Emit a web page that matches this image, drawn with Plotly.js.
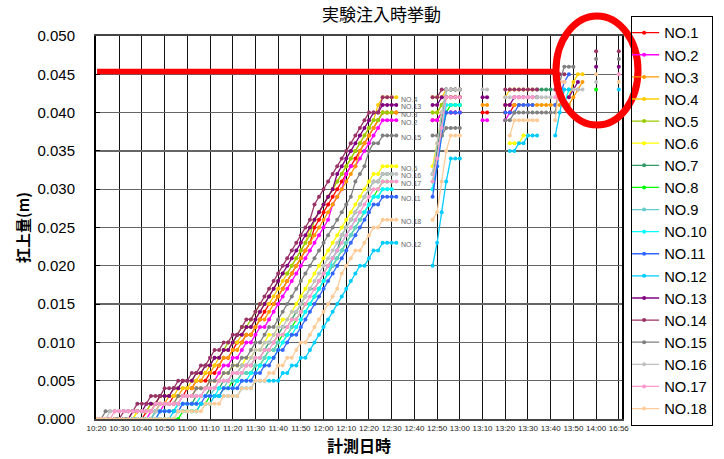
<!DOCTYPE html>
<html>
<head>
<meta charset="utf-8">
<script src="https://cdn.plot.ly/plotly-3.0.1.min.js"></script>
<style>html,body{margin:0;padding:0;background:#fff;}#chart{width:724px;height:459px;}</style>
</head>
<body>
<div id="chart"></div>
<script>
const _ = null;
// x categories: one step per measurement (2 min), label every 5 steps
const timeLabels = ['10:20','10:30','10:40','10:50','11:00','11:10','11:20','11:30','11:40','11:50','12:00','12:10','12:20','12:30','12:40','12:50','13:00','13:10','13:20','13:30','13:40','13:50','14:00','16:56'];
const seriesNames = ['NO.1','NO.2','NO.3','NO.4','NO.5','NO.6','NO.7','NO.8','NO.9','NO.10','NO.11','NO.12','NO.13','NO.14','NO.15','NO.16','NO.17','NO.18'];
const seriesColors = ['#FF0000','#FF00FF','#FF9900','#FFCC00','#99CC00','#FFFF00','#339966','#00FF00','#66CCCC','#00FFFF','#3366FF','#00CCFF','#800080','#993366','#808080','#C0C0C0','#FF99CC','#FFCC99'];

// lift (m) per measurement step
const no1 = [0,0,0,0,0, 0,0,0,0,0, 0,0.001,0.001,0.001,0.002, 0.002,0.002,0.003,0.003,0.003, 0.004,0.004,0.005,0.005,0.005, 0.006,0.006,0.007,0.008,0.008, 0.009,0.010,0.010,0.011,0.011, 0.012,0.013,0.014,0.015,0.015, 0.016,0.017,0.018,0.019,0.020, 0.021,0.022,0.023,0.025,0.026, 0.027,0.028,0.029,0.030,0.031, 0.032,0.033,0.034,0.035,0.036, 0.037,0.038,0.039, 0.040,0.040,0.040,0.040,
 _,_,_,_,_,_,_, 0.039,0.039,0.040,0.040,0.040,0.040,0.040, _,_,_,_, 0.040,0.040, _,_,_,
 0.040,0.040,0.041,_,_,_,_,_,_,_,_, _,_,_,_,_,_,_, _,_, _, _,_,_,_, _];
const no2 = [0,0,0,0,0, 0,0,0,0,0, 0,0,0.001,0.001,0.001, 0.002,0.002,0.002,0.002,0.003, 0.003,0.003,0.004,0.004,0.004, 0.005,0.005,0.006,0.007,0.007, 0.008,0.008,0.009,0.010,0.010, 0.011,0.012,0.012,0.013,0.014, 0.015,0.016,0.017,0.018,0.019, 0.020,0.021,0.022,0.023,0.024, 0.025,0.026,0.028,0.029,0.030, 0.032,0.033,0.033,0.034,0.035, 0.036,0.037,0.038, 0.039,0.039,0.039,0.039,
 _,_,_,_,_,_,_, 0.039,0.039,0.040,0.040,0.040,0.040,0.040, _,_,_,_, 0.039,0.039, _,_,_,
 0.039,0.040,_,_,_,_,_,_,_,_,_, _,_,_,_,_,_,_, _,_, _, _,_,_,_, _];
const no3 = [0,0,0,0,0, 0,0,0,0,0.001, 0.001,0.001,0.001,0.002,0.002, 0.002,0.003,0.003,0.003,0.004, 0.004,0.004,0.005,0.005,0.006, 0.006,0.007,0.007,0.008,0.008, 0.009,0.009,0.010,0.011,0.011, 0.012,0.013,0.013,0.014,0.015, 0.016,0.017,0.018,0.019,0.020, 0.021,0.022,0.023,0.024,0.025, 0.026,0.027,0.028,0.029,0.030, 0.031,0.032,0.033,0.035,0.036, 0.037,0.038,0.039, 0.040,0.040,0.040,0.040,
 _,_,_,_,_,_,_, 0.040,0.040,0.041,0.041,0.041,0.041,0.041, _,_,_,_, 0.041,0.041, _,_,_,
 0.041,0.041,0.041,0.041,0.041,0.041,0.041,0.041,0.041,0.041,0.041, 0.041,0.041,0.041,0.041,0.042,0.043,0.044, _,_, _, _,_,_,_, _];
const no4 = [0,0,0,0,0, 0,0,0,0,0.001, 0.001,0.001,0.002,0.002,0.003, 0.003,0.003,0.003,0.004,0.004, 0.004,0.005,0.005,0.006,0.006, 0.007,0.007,0.008,0.009,0.009, 0.010,0.010,0.011,0.012,0.012, 0.013,0.014,0.015,0.015,0.016, 0.017,0.018,0.019,0.020,0.021, 0.022,0.023,0.025,0.026,0.027, 0.028,0.029,0.030,0.031,0.032, 0.033,0.034,0.035,0.036,0.037, 0.038,0.039,0.041, 0.042,0.042,0.042,0.042,
 _,_,_,_,_,_,_, 0.042,0.042,0.042,0.043,0.043,0.043,0.043, _,_,_,_, _,_, _,_,_,
 0.042,0.043,0.043,0.043,0.043,0.043,0.043,_,_,_,_, _,_,_,0.042,0.044,0.045,0.045, _,_, _, _,_,_,_, _];
const no5 = [0,0,0,0,0, 0,0,0,0.001,0.001, 0.001,0.001,0.002,0.002,0.003, 0.003,0.003,0.004,0.004,0.005, 0.005,0.005,0.006,0.006,0.007, 0.007,0.008,0.008,0.009,0.010, 0.010,0.011,0.012,0.012,0.013, 0.014,0.015,0.015,0.016,0.017, 0.018,0.019,0.019,0.020,0.021, 0.022,0.023,0.024,0.026,0.027, 0.028,0.029,0.030,0.031,0.032, 0.033,0.034,0.035,0.036,0.037, 0.038,0.039,0.039, 0.040,0.040,0.040,_,
 _,_,_,_,_,_,_, 0.040,0.040,0.041,0.042,0.042,0.042,0.042, _,_,_,_, _,_, _,_,_,
 _,_,_,_,_,_,_,_,_,_,_, _,_,_,_,_,_,_, _,_, _, _,_,_,_, _];
const no6 = [0,0,0,0,0, 0,0,0,0,0.001, 0.001,0.001,0.001,0.001,0.002, 0.002,0.002,0.002,0.003,0.003, 0.003,0.003,0.004,0.004,0.004, 0.005,0.005,0.005,0.006,0.006, 0.007,0.007,0.007,0.008,0.008, 0.009,0.009,0.010,0.011,0.011, 0.012,0.013,0.013,0.014,0.015, 0.016,0.017,0.018,0.019,0.020, 0.021,0.022,0.023,0.024,0.025, 0.026,0.027,0.028,0.029,0.030, 0.031,0.032,0.032, 0.033,0.033,0.033,0.033,
 _,_,_,_,_,_,_, 0.033,0.036,0.040,0.042,0.042,0.042,0.042, _,_,_,_, _,_, _,_,_,
 _,0.036,0.036,0.036,0.037,0.037,_,_,_,_,_, _,_,_,_,_,_,_, _,_, _, _,_,_,_, _];
const no7 = [0,0,0,0,0, 0,0,0,0,0, 0,0,0,0.001,0.001, 0.001,0.001,0.001,0.002,0.002, 0.002,0.002,0.003,0.003,0.003, 0.004,0.004,0.004,0.005,0.005, 0.006,0.006,0.007,0.007,0.007, 0.008,0.008,0.009,0.010,0.010, 0.011,0.012,0.012,0.013,0.014, 0.015,0.016,0.017,0.017,0.018, 0.019,0.020,0.021,0.022,0.024, 0.025,0.026,0.027,0.028,0.029, 0.030,0.031,0.031, 0.032,0.032,0.032,_,
 _,_,_,_,_,_,_, 0.032,0.035,0.039,0.043,0.043,0.043,0.043, _,_,_,_, _,_, _,_,_,
 _,_,_,_,_,_,_,0.043,0.043,0.043,0.043, _,_,_,_,_,_,_, _,_, _, _,_,_,_, _];
const no8 = [0,0,0,0,0, 0,0,0,0,0, 0,0,0,0,0, 0,0,0,0,0.001, 0.001,0.001,0.001,0.002,0.002, 0.003,0.003,0.003,0.004,0.004, 0.005,0.005,0.006,0.006,0.006, 0.007,0.007,0.008,0.009,0.009, 0.010,0.011,0.011,0.012,0.013, 0.014,0.015,0.015,0.016,0.017, 0.018,0.019,0.020,0.021,0.022, 0.023,0.024,0.025,0.026,0.027, 0.028,0.029,0.030, 0.031,0.031,0.031,_,
 _,_,_,_,_,_,_, 0.031,0.034,0.037,0.040,0.041,0.041,0.041, _,_,_,_, _,_, _,_,_,
 _,_,_,_,_,_,_,_,_,_,_, _,_,_,_,_,_,_, _,_, 0.043, _,_,_,_, _];
const no9 = [0,0,0,0,0, 0,0,0,0,0, 0,0,0,0.001,0.001, 0.001,0.001,0.001,0.001,0.002, 0.002,0.002,0.002,0.003,0.003, 0.003,0.004,0.004,0.004,0.005, 0.005,0.005,0.006,0.006,0.006, 0.007,0.007,0.008,0.009,0.009, 0.010,0.010,0.011,0.012,0.012, 0.013,0.014,0.015,0.016,0.017, 0.018,0.019,0.020,0.021,0.022, 0.023,0.024,0.025,0.026,0.027, 0.028,0.029,0.029, 0.030,0.030,0.030,_,
 _,_,_,_,_,_,_, 0.030,0.034,0.038,0.043,0.043,0.043,0.043, _,_,_,_, _,_, _,_,_,
 _,_,_,_,_,_,_,_,_,_,_, _,_,_,_,_,_,_, _,_, _, _,_,_,_, _];
const no10 = [0,0,0,0,0, 0,0,0,0,0, 0,0,0,0,0.001, 0.001,0.001,0.001,0.002,0.002, 0.002,0.002,0.002,0.003,0.003, 0.003,0.003,0.004,0.004,0.004, 0.004,0.005,0.005,0.005,0.006, 0.006,0.007,0.007,0.008,0.008, 0.009,0.010,0.011,0.011,0.012, 0.013,0.014,0.015,0.016,0.017, 0.018,0.019,0.021,0.022,0.023, 0.024,0.025,0.026,0.027,0.027, 0.028,0.029,0.029, 0.030,0.030,0.030,_,
 _,_,_,_,_,_,_, 0.030,0.033,0.037,0.041,0.041,0.041,0.041, _,_,_,_, _,_, _,_,_,
 _,_,_,_,_,_,_,_,_,_,_, _,_,0.041,0.043,_,_,_, _,_, _, _,_,_,_, _];
const no11 = [0,0,0,0,0, 0,0,0,0,0, 0,0,0,0,0.001, 0.001,0.001,0.001,0.001,0.002, 0.002,0.002,0.002,0.002,0.003, 0.003,0.003,0.003,0.004,0.004, 0.004,0.004,0.005,0.005,0.005, 0.006,0.006,0.007,0.007,0.008, 0.009,0.009,0.010,0.011,0.011, 0.012,0.013,0.014,0.015,0.016, 0.017,0.018,0.019,0.020,0.021, 0.022,0.023,0.024,0.025,0.026, 0.027,0.028,0.028, 0.029,0.029,0.029,0.029,
 _,_,_,_,_,_,_, 0.029,0.033,0.037,0.040,0.040,0.040,0.040, _,_,_,_, _,_, _,_,_,
 0.040,0.040,0.040,0.041,0.041,0.041,0.041,_,_,_,_, 0.041,0.042,0.044,0.045,_,_,_, _,_, _, _,_,_,_, _];
const no12 = [0,0,0,0,0, 0,0,0,0,0, 0,0,0,0,0, 0,0,0.001,0.001,0.001, 0.001,0.001,0.001,0.002,0.002, 0.002,0.003,0.003,0.003,0.003, 0.003,0.003,0.004,0.004,0.004, 0.005,0.005,0.005,0.005,0.005, 0.005,0.006,0.006,0.007,0.007, 0.008,0.008,0.009,0.010,0.011, 0.012,0.013,0.014,0.015,0.016, 0.017,0.018,0.019,0.020,0.020, 0.021,0.022,0.022, 0.023,0.023,0.023,0.023,
 _,_,_,_,_,_,_, 0.020,0.023,0.027,0.031,0.034,0.034,0.034, _,_,_,_, _,_, _,_,_,
 _,0.035,0.035,0.036,0.036,0.037,0.037,0.037,_,_,_, 0.037,0.040,0.043,0.043,_,_,_, _,_, _, _,_,_,_, 0.043];
const no13 = [0,0,0,0,0, 0,0,0,0.001,0.001, 0.001,0.002,0.002,0.002,0.003, 0.003,0.003,0.004,0.004,0.005, 0.005,0.005,0.006,0.006,0.007, 0.007,0.008,0.008,0.009,0.009, 0.010,0.011,0.011,0.012,0.012, 0.013,0.014,0.015,0.016,0.017, 0.018,0.019,0.020,0.021,0.022, 0.023,0.024,0.025,0.026,0.027, 0.028,0.029,0.030,0.032,0.033, 0.034,0.035,0.036,0.037,0.038, 0.039,0.040,0.040, 0.041,0.041,0.041,0.041,
 _,_,_,_,_,_,_, 0.041,0.041,0.042,0.042,0.042,0.042,0.042, _,_,_,_, 0.042,0.042, _,_,_,
 0.041,0.041,0.042,0.042,0.042,0.042,0.042,0.042,_,_,_, _,_,_,0.042,0.043,0.044,_, _,_, 0.046, _,_,_,_, 0.046];
const no14 = [0,0,0,0,0, 0,0.001,0.001,0.001,0.002, 0.002,0.002,0.003,0.003,0.003, 0.004,0.004,0.004,0.005,0.005, 0.005,0.006,0.006,0.007,0.007, 0.008,0.009,0.009,0.010,0.010, 0.011,0.011,0.012,0.013,0.013, 0.014,0.015,0.016,0.017,0.018, 0.019,0.020,0.021,0.022,0.023, 0.024,0.025,0.026,0.028,0.029, 0.030,0.031,0.032,0.033,0.034, 0.035,0.036,0.037,0.038,0.039, 0.040,0.040,0.040, 0.042,0.042,0.042,_,
 _,_,_,_,_,_,_, 0.042,0.042,0.043,0.043,0.043,0.043,0.043, _,_,_,_, _,_, _,_,_,
 0.043,0.043,0.043,0.043,0.043,0.043,0.043,0.043,_,_,_, 0.043,0.045,0.045,_,_,_,_, _,_, 0.048, _,_,_,_, 0.048];
const no15 = [0,0,0.001,0.001,0.001, 0.001,0.001,0.001,0.001,0.001, 0.001,0.001,0.001,0.002,0.002, 0.002,0.002,0.002,0.003,0.003, 0.003,0.003,0.004,0.004,0.004, 0.005,0.005,0.005,0.006,0.006, 0.007,0.007,0.008,0.008,0.009, 0.010,0.010,0.011,0.012,0.012, 0.013,0.014,0.015,0.016,0.017, 0.018,0.019,0.020,0.021,0.022, 0.023,0.024,0.025,0.026,0.027, 0.028,0.029,0.031,0.032,0.033, 0.035,0.036,0.036, 0.037,0.037,0.037,0.037,
 _,_,_,_,_,_,_, 0.037,0.037,0.037,0.038,0.038,0.038,0.038, _,_,_,_, _,_, _,_,_,
 0.039,0.039,0.040,0.040,0.040,0.040,0.040,0.040,0.040,0.040,0.040, 0.040,0.044,0.046,0.046,0.046,_,_, _,_, 0.047, _,_,_,_, 0.047];
const no16 = [0,0,0,0.001,0.001, 0.001,0.001,0.001,0.001,0.001, 0.001,0.001,0.001,0.001,0.002, 0.002,0.002,0.002,0.002,0.003, 0.003,0.003,0.003,0.003,0.004, 0.004,0.004,0.005,0.005,0.005, 0.006,0.006,0.007,0.007,0.008, 0.009,0.009,0.010,0.010,0.011, 0.012,0.012,0.013,0.014,0.014, 0.015,0.016,0.017,0.018,0.019, 0.020,0.021,0.022,0.023,0.024, 0.025,0.026,0.027,0.028,0.029, 0.030,0.031,0.031, 0.032,0.032,0.032,0.032,
 _,_,_,_,_,_,_, 0.032,0.036,0.040,0.043,0.043,0.043,0.043, _,_,_,_, 0.043,0.043, _,_,_,
 0.042,0.042,0.042,0.042,0.042,0.042,0.042,0.042,0.042,0.042,0.042, _,_,_,_,0.043,0.043,0.043, _,_, 0.044, _,_,_,_, _];
const no17 = [0,0,0,0,0.001, 0.001,0.001,0.001,0.001,0.001, 0.001,0.001,0.001,0.002,0.002, 0.002,0.002,0.002,0.002,0.003, 0.003,0.003,0.003,0.003,0.004, 0.004,0.004,0.005,0.005,0.005, 0.006,0.006,0.006,0.007,0.007, 0.008,0.008,0.009,0.009,0.010, 0.011,0.011,0.012,0.013,0.013, 0.014,0.015,0.016,0.017,0.018, 0.019,0.020,0.021,0.022,0.023, 0.024,0.025,0.026,0.027,0.028, 0.029,0.030,0.030, 0.031,0.031,0.031,0.031,
 _,_,_,_,_,_,_, 0.031,0.034,0.038,0.042,0.042,0.042,0.042, _,_,_,_, _,_, _,_,_,
 _,_,0.042,0.042,0.042,0.042,0.042,_,_,_,_, 0.042,0.044,0.044,_,_,_,_, _,_, _, _,_,_,_, 0.045];
const no18 = [0,0,0,0,0, 0,0,0,0,0, 0,0,0,0,0, 0,0,0,0.001,0.001, 0.001,0.001,0.001,0.001,0.002, 0.002,0.002,0.002,0.003,0.003, 0.003,0.003,0.004,0.004,0.004, 0.005,0.005,0.005,0.006,0.006, 0.007,0.007,0.008,0.008,0.009, 0.010,0.010,0.011,0.012,0.013, 0.014,0.015,0.016,0.017,0.019, 0.020,0.021,0.022,0.022,0.023, 0.024,0.025,0.025, 0.026,0.026,0.026,0.026,
 _,_,_,_,_,_,_, 0.026,0.027,0.031,0.035,0.037,0.037,0.037, _,_,_,_, _,_, _,_,_,
 _,0.037,0.039,0.039,0.039,0.039,0.039,0.039,_,_,_, 0.039,0.044,0.044,_,_,_,_, _,_, 0.045, _,_,_,_, 0.044];

const seriesData = [no1,no2,no3,no4,no5,no6,no7,no8,no9,no10,no11,no12,no13,no14,no15,no16,no17,no18];
// inline point labels written next to the 12:30 values
const pointLabels = ['NO.4','NO.13','NO.3','NO.2','NO.15','NO.6','NO.16','NO.17','NO.11','NO.18','NO.12'];
const labelStep = 66;

const FONT = '"Liberation Sans", Arial, "Noto Sans CJK JP", sans-serif';
const JP = '"Noto Sans CJK JP", "Liberation Sans", sans-serif';

const traces = seriesNames.map((name, i) => ({
  type: 'scatter', mode: 'lines+markers', name: name,
  y: seriesData[i], x0: 0, dx: 1,
  line: {color: seriesColors[i], width: 1.3},
  marker: {color: seriesColors[i], size: 4, symbol: 'circle'},
  connectgaps: false
}));

const annotations = pointLabels.map(lbl => {
  const s = seriesData[seriesNames.indexOf(lbl)];
  return {x: labelStep + 0.5, y: s[labelStep], xref: 'x', yref: 'y', text: lbl,
    showarrow: false, xanchor: 'left', yanchor: 'middle', yshift: -2,
    font: {family: FONT, size: 7, color: '#666'}};
});

const layout = {
  width: 724, height: 459,
  margin: {l: 96, r: 102, t: 36, b: 40, autoexpand: false},
  paper_bgcolor: '#fff', plot_bgcolor: '#fff',
  font: {family: FONT, color: '#000'},
  title: {text: '実験注入時挙動', x: 0.543, xref: 'paper', xanchor: 'center', y: 0.968, yref: 'container', yanchor: 'middle',
    font: {family: JP, size: 17, color: '#000'}},
  xaxis: {
    range: [-0.1, 115.7], tickmode: 'array',
    tickvals: timeLabels.map((t, i) => i * 5), ticktext: timeLabels,
    tickfont: {family: FONT, size: 8, color: '#222'}, tickangle: 0,
    showgrid: true, gridcolor: '#111', gridwidth: 1,
    zeroline: false, showline: true, linecolor: '#444', linewidth: 2, mirror: true,
    ticks: '', ticklabelstandoff: 0,
    title: {text: '計測日時', font: {family: JP, size: 16, color: '#000', weight: 'bold'}, standoff: 4}
  },
  yaxis: {
    range: [0, 0.050], dtick: 0.005, tick0: 0, tickformat: '.3f',
    tickfont: {family: FONT, size: 15, color: '#000'},
    showgrid: true, gridcolor: '#666', gridwidth: 1.3,
    zeroline: false, showline: true, linecolor: '#000', linewidth: 2, mirror: true,
    ticks: 'inside', ticklen: 4, tickcolor: '#000', ticklabelstandoff: 16,
    title: {text: '扛上量(m)', font: {family: JP, size: 15, color: '#000', weight: 'bold'}, standoff: 4}
  },
  legend: {
    xref: 'container', yref: 'container',
    x: 0.985, y: 0.966, xanchor: 'right', yanchor: 'top',
    bgcolor: 'rgba(255,255,255,0)', bordercolor: '#000', borderwidth: 1,
    font: {family: FONT, size: 14.7, color: '#000'},
    itemwidth: 30, indentation: -8, tracegroupgap: 0, maxheight: 440
  },
  showlegend: true,
  annotations: annotations,
  shapes: [
    {type: 'line', xref: 'paper', yref: 'paper', x0: 0.002, x1: 0.8745, y0: 0.9073, y1: 0.9073,
      line: {color: '#FF0000', width: 5.5}, layer: 'above'},
    {type: 'circle', xref: 'paper', yref: 'paper', x0: 0.8745, x1: 1.0304, y0: 0.7676, y1: 1.0522,
      line: {color: '#FF0000', width: 7}, fillcolor: 'rgba(0,0,0,0)', layer: 'above'}
  ]
};

Plotly.newPlot('chart', traces, layout, {displayModeBar: false, staticPlot: true});
</script>
</body>
</html>
